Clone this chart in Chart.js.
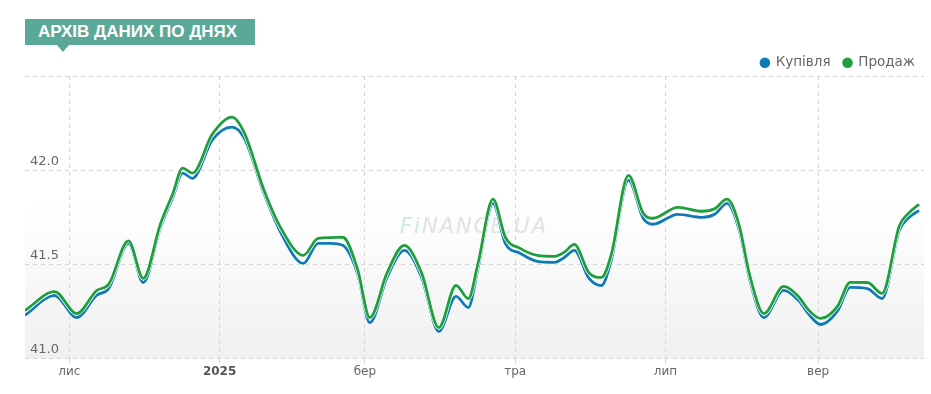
<!DOCTYPE html>
<html>
<head>
<meta charset="utf-8">
<script src="https://cdn.jsdelivr.net/npm/chart.js@4.4.1/dist/chart.umd.min.js"></script>
<style>
  html, body { margin: 0; padding: 0; background: #fff; }
  .wrap { position: relative; width: 931px; height: 394px; }
  canvas { position: absolute; left: 0; top: 0; }
  .badge {
    position: absolute; left: 25px; top: 19px; height: 26px; width: 230px;
    background: #5aa898; color: #fff; box-sizing: border-box; padding-left: 13px;
    font: bold 17px 'Liberation Sans', Arial, sans-serif; line-height: 26px; white-space: nowrap;
  }
  .badge:after {
    content: ''; position: absolute; left: 32px; top: 26px;
    border-left: 6px solid transparent; border-right: 6px solid transparent; border-top: 7px solid #5aa898;
  }
</style>
</head>
<body>
<div class="wrap">
  <canvas id="archiveChart" width="931" height="394"></canvas>
  <div class="badge">АРХІВ ДАНИХ ПО ДНЯХ</div>
</div>
<script>
// dates of the points
const dates = ['2024-10-14','2024-10-26','2024-11-04','2024-11-12','2024-11-17','2024-11-25','2024-12-01','2024-12-08',
  '2024-12-13','2024-12-17','2024-12-21','2024-12-29','2025-01-06','2025-01-11','2025-01-19','2025-01-26','2025-02-04',
  '2025-02-10','2025-02-15','2025-02-20','2025-02-26','2025-03-03','2025-03-10','2025-03-17','2025-03-24','2025-03-31',
  '2025-04-07','2025-04-12','2025-04-16','2025-04-22','2025-04-27','2025-05-03','2025-05-10','2025-05-17','2025-05-21',
  '2025-05-25','2025-05-31','2025-06-05','2025-06-09','2025-06-16','2025-06-22','2025-06-26','2025-07-06','2025-07-16',
  '2025-07-21','2025-07-26','2025-07-31','2025-08-04','2025-08-10','2025-08-18','2025-08-24','2025-08-28','2025-09-02',
  '2025-09-09','2025-09-14','2025-09-21','2025-09-27','2025-10-04','2025-10-08','2025-10-12'];

// Купівля
const buy = [41.23,41.335,41.218,41.335,41.372,41.612,41.404,41.697,41.856,41.984,41.957,42.16,42.229,42.17,41.878,
  41.665,41.505,41.612,41.612,41.601,41.452,41.191,41.431,41.574,41.431,41.144,41.33,41.271,41.484,41.824,41.612,
  41.559,41.516,41.511,41.537,41.574,41.426,41.388,41.521,41.947,41.745,41.713,41.766,41.75,41.766,41.824,41.681,
  41.431,41.218,41.362,41.309,41.239,41.181,41.255,41.378,41.372,41.319,41.681,41.75,41.787];

// Продаж
const sell = [41.255,41.356,41.239,41.36,41.395,41.625,41.426,41.715,41.875,42.011,41.984,42.19,42.282,42.2,41.895,
  41.69,41.548,41.638,41.642,41.644,41.475,41.218,41.455,41.601,41.455,41.165,41.388,41.319,41.51,41.846,41.644,
  41.585,41.548,41.543,41.565,41.606,41.455,41.431,41.55,41.973,41.771,41.745,41.803,41.782,41.795,41.846,41.705,
  41.455,41.239,41.383,41.33,41.26,41.213,41.28,41.405,41.404,41.346,41.705,41.775,41.819];

const tickDates = ['2024-11-01','2025-01-01','2025-03-01','2025-05-01','2025-07-01','2025-09-01'];
const tickLabels = ['лис','2025','бер','тра','лип','вер'];
const yTicks = [41.0, 41.5, 42.0, 42.5];

const blue = '#0f7bb5';
const green = '#1f9e3c';

const day0 = Date.parse(dates[0]);
const toDay = d => (Date.parse(d) - day0) / 86400000;
const tickDays = tickDates.map(toDay);
const points = arr => arr.map((v, i) => ({ x: toDay(dates[i]), y: v }));

const plotBg = {
  id: 'plotBg',
  beforeDraw(chart) {
    const { ctx, chartArea: a } = chart;
    const g = ctx.createLinearGradient(0, a.top, 0, a.bottom);
    g.addColorStop(0, '#ffffff');
    g.addColorStop(0.45, '#ffffff');
    g.addColorStop(1, '#f0f0f0');
    ctx.save();
    ctx.fillStyle = g;
    ctx.fillRect(a.left, a.top, a.right - a.left, a.bottom - a.top);
    ctx.restore();
  }
};

// nudge the legend a few px right/down to sit where the original has it
const legendNudge = {
  id: 'legendNudge',
  afterLayout(chart) {
    const lg = chart.legend;
    lg.left += 4; lg.right += 4;
    lg.top += 1; lg.bottom += 1;
  }
};

const watermark = {
  id: 'watermark',
  beforeDatasetsDraw(chart) {
    const { ctx } = chart;
    ctx.save();
    ctx.font = 'italic 21px "DejaVu Sans"';
    ctx.letterSpacing = '2px';
    ctx.textBaseline = 'middle';
    ctx.fillStyle = '#cfe8e2';
    ctx.fillText('Fi', 400, 228);
    const w = ctx.measureText('Fi').width;
    ctx.fillStyle = '#e2e2e2';
    ctx.fillText('NANCE.UA', 400 + w, 228);
    ctx.restore();
  }
};

const lineDs = (label, data, color, order) => ({
  label, data, order,
  borderColor: color, backgroundColor: color,
  borderWidth: 2.8, pointRadius: 0, cubicInterpolationMode: 'monotone', fill: false
});

const haloDs = (data, order) => ({
  label: '', data, order,
  borderColor: '#ffffff', borderWidth: 4.2, pointRadius: 0, cubicInterpolationMode: 'monotone', fill: false
});

new Chart(document.getElementById('archiveChart'), {
  type: 'line',
  data: {
    datasets: [
      lineDs('Купівля', points(buy), blue, 3),
      lineDs('Продаж', points(sell), green, 1),
      haloDs(points(buy), 4),
      haloDs(points(sell), 2)
    ]
  },
  options: {
    responsive: false,
    devicePixelRatio: 1,
    animation: false,
    layout: { padding: { left: 15, right: 7, top: 42, bottom: 14 } },
    plugins: {
      tooltip: { enabled: false },
      legend: {
        position: 'top',
        align: 'end',
        maxHeight: 34,
        labels: {
          usePointStyle: true,
          pointStyle: 'circle',
          boxWidth: 8,
          boxHeight: 5.5,
          padding: 13,
          color: '#666',
          font: { family: 'DejaVu Sans', size: 13.5 },
          filter: item => item.text !== '',
          sort: (a, b) => a.datasetIndex - b.datasetIndex
        }
      }
    },
    scales: {
      x: {
        type: 'linear',
        min: 0,
        max: 365,
        afterBuildTicks: scale => { scale.ticks = tickDays.map(v => ({ value: v })); },
        grid: { color: '#d4d4d4', tickLength: 5 },
        border: { display: false, dash: [4, 4] },
        ticks: {
          autoSkip: false,
          maxRotation: 0,
          padding: 1,
          callback: (v, i) => tickLabels[i],
          color: c => (c.tick && c.tick.label === '2025') ? '#555' : '#666',
          font: c => ({ family: 'DejaVu Sans', size: 12, weight: (c.tick && c.tick.label === '2025') ? 'bold' : 'normal' })
        }
      },
      y: {
        min: 41.0,
        max: 42.5,
        afterBuildTicks: scale => { scale.ticks = yTicks.map(v => ({ value: v })); },
        grid: { color: '#d4d4d4', drawTicks: false },
        border: { display: false, dash: [4, 4] },
        ticks: {
          mirror: true,
          padding: 5,
          labelOffset: -9,
          color: '#666',
          font: { family: 'DejaVu Sans', size: 13 },
          callback: v => v >= 42.5 ? '' : v.toFixed(1)
        }
      }
    }
  },
  plugins: [plotBg, legendNudge, watermark]
});
</script>
</body>
</html>
